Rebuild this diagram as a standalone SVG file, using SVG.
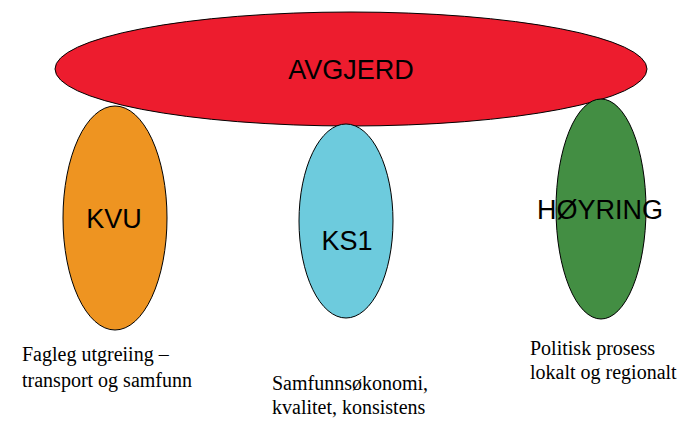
<svg xmlns="http://www.w3.org/2000/svg" width="697" height="421" viewBox="0 0 697 421">
<style>
.sh{stroke:#000;stroke-width:1}
.lbl{font-family:"Liberation Sans",Arial,sans-serif;font-size:27px;fill:#000;text-anchor:middle}
.cap{font-family:"Liberation Serif","Times New Roman",serif;font-size:20px;fill:#000}
</style>
<rect width="697" height="421" fill="#fff"/>
<g id="avgjerd">
<ellipse class="sh" cx="351" cy="69" rx="296" ry="57" fill="#ED1C2E"/>
<text class="lbl" x="351" y="79">AVGJERD</text>
</g>
<g id="kvu">
<ellipse class="sh" cx="115" cy="218" rx="52" ry="112" fill="#EE9421"/>
<text class="lbl" x="114" y="228">KVU</text>
</g>
<g id="ks1">
<ellipse class="sh" cx="346" cy="221" rx="47" ry="97" fill="#6DCBDD"/>
<text class="lbl" x="347" y="250">KS1</text>
</g>
<g id="hoyring">
<ellipse class="sh" cx="601" cy="209" rx="45" ry="110" fill="#438E43"/>
<text class="lbl" x="600" y="219">HØYRING</text>
</g>
<g id="captions">
<text class="cap" x="22" y="361">Fagleg utgreiing –</text>
<text class="cap" x="22" y="387">transport og samfunn</text>
<text class="cap" x="272" y="390">Samfunnsøkonomi,</text>
<text class="cap" x="272" y="414">kvalitet, konsistens</text>
<text class="cap" x="530" y="355">Politisk prosess</text>
<text class="cap" x="530" y="379">lokalt og regionalt</text>
</g>
</svg>
